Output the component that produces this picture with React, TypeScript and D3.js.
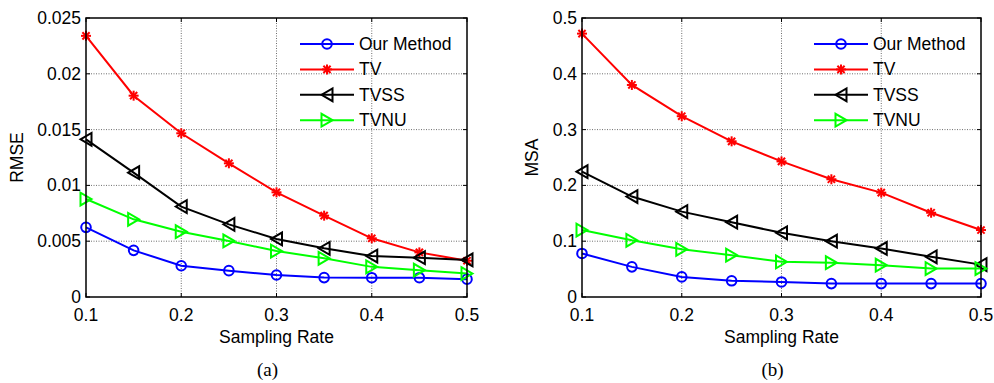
import React from 'react';
import * as d3 from 'd3';

// sampling rates on the x axis
const samplingRates = [0.1, 0.15, 0.2, 0.25, 0.3, 0.35, 0.4, 0.45, 0.5];
const xTickValues = [0.1, 0.2, 0.3, 0.4, 0.5];
const xTickLabels = ['0.1', '0.2', '0.3', '0.4', '0.5'];

// (a) RMSE
const rmseOurMethod = [0.00624, 0.00418, 0.0028, 0.00236, 0.00197, 0.00174, 0.00173, 0.00173, 0.0016];
const rmseTV = [0.0234, 0.01804, 0.01467, 0.01198, 0.00938, 0.00729, 0.00526, 0.004, 0.00325];
const rmseTVSS = [0.01413, 0.01114, 0.0081, 0.00651, 0.0052, 0.00436, 0.00367, 0.00352, 0.00332];
const rmseTVNU = [0.00878, 0.00696, 0.00585, 0.00502, 0.00412, 0.00347, 0.0027, 0.0024, 0.0021];
const rmseTicks = [0, 0.005, 0.01, 0.015, 0.02, 0.025];
const rmseTickLabels = ['0', '0.005', '0.01', '0.015', '0.02', '0.025'];

// (b) MSA
const msaOurMethod = [0.078, 0.054, 0.036, 0.029, 0.027, 0.024, 0.024, 0.024, 0.024];
const msaTV = [0.472, 0.38, 0.324, 0.279, 0.243, 0.211, 0.187, 0.151, 0.12];
const msaTVSS = [0.2245, 0.18, 0.153, 0.134, 0.115, 0.1, 0.087, 0.072, 0.058];
const msaTVNU = [0.12, 0.1016, 0.0855, 0.075, 0.063, 0.0615, 0.057, 0.051, 0.051];
const msaTicks = [0, 0.1, 0.2, 0.3, 0.4, 0.5];
const msaTickLabels = ['0', '0.1', '0.2', '0.3', '0.4', '0.5'];

const methodNames = ['Our Method', 'TV', 'TVSS', 'TVNU'];
const methodColors = ['#0000ff', '#ff0000', '#000000', '#00ff00'];
const methodMarkers = ['circle', 'star', 'triLeft', 'triRight'];

const FONT = '"Liberation Sans", Arial, sans-serif';

type MarkerProps = { kind: string; x: number; y: number; color: string };

const Marker = ({ kind, x, y, color }: MarkerProps) => {
  if (kind === 'circle') {
    return <circle cx={x} cy={y} r={4.8} fill="none" stroke={color} strokeWidth={2} />;
  }
  if (kind === 'star') {
    const s = 5, d = 3.6;
    return (
      <g stroke={color} strokeWidth={2}>
        <line x1={x - s} y1={y} x2={x + s} y2={y} />
        <line x1={x} y1={y - s} x2={x} y2={y + s} />
        <line x1={x - d} y1={y - d} x2={x + d} y2={y + d} />
        <line x1={x - d} y1={y + d} x2={x + d} y2={y - d} />
      </g>
    );
  }
  const w = 5.5, h = 6.4;
  const pts = kind === 'triLeft'
    ? [[x - w, y], [x + w, y - h], [x + w, y + h]]
    : [[x + w, y], [x - w, y - h], [x - w, y + h]];
  return <polygon points={pts.map(p => p.join(',')).join(' ')} fill="none" stroke={color} strokeWidth={2} />;
};

type PanelProps = {
  left: number; right: number; top: number; bottom: number;
  yMax: number; yTicks: number[]; yTickLabels: string[];
  yLabel: string; yLabelX: number; series: number[][];
  legendX: number; caption: string;
};

const Panel = (p: PanelProps) => {
  const x = d3.scaleLinear().domain([0.1, 0.5]).range([p.left, p.right]);
  const y = d3.scaleLinear().domain([0, p.yMax]).range([p.bottom, p.top]);
  const line = d3.line<number>().x((_, i) => x(samplingRates[i])).y(d => y(d));
  const tick = 4;
  const cx = (p.left + p.right) / 2;

  return (
    <g fontFamily={FONT} fontSize={17.5}>
      {/* grid */}
      <g stroke="#6e6e6e" strokeWidth={1} strokeDasharray="1,1.5">
        {xTickValues.slice(1, -1).map(v => (
          <line key={'gx' + v} x1={x(v)} x2={x(v)} y1={p.top} y2={p.bottom} />
        ))}
        {p.yTicks.slice(1, -1).map(v => (
          <line key={'gy' + v} x1={p.left} x2={p.right} y1={y(v)} y2={y(v)} />
        ))}
      </g>
      {/* inward ticks */}
      <g stroke="#000" strokeWidth={1}>
        {xTickValues.map(v => (
          <g key={'tx' + v}>
            <line x1={x(v)} x2={x(v)} y1={p.bottom} y2={p.bottom - tick} />
            <line x1={x(v)} x2={x(v)} y1={p.top} y2={p.top + tick} />
          </g>
        ))}
        {p.yTicks.map(v => (
          <g key={'ty' + v}>
            <line x1={p.left} x2={p.left + tick} y1={y(v)} y2={y(v)} />
            <line x1={p.right} x2={p.right - tick} y1={y(v)} y2={y(v)} />
          </g>
        ))}
      </g>
      {/* series */}
      {p.series.map((vals, si) => (
        <g key={'s' + si}>
          <path d={line(vals) || ''} fill="none" stroke={methodColors[si]} strokeWidth={2} />
          {vals.map((v, i) => (
            <Marker key={i} kind={methodMarkers[si]} x={x(samplingRates[i])} y={y(v)} color={methodColors[si]} />
          ))}
        </g>
      ))}
      {/* axes box */}
      <rect x={p.left} y={p.top} width={p.right - p.left} height={p.bottom - p.top} fill="none" stroke="#000" strokeWidth={1.5} />
      {/* tick labels */}
      {xTickValues.map((v, i) => (
        <text key={'lx' + v} x={x(v)} y={p.bottom + 24} textAnchor="middle">{xTickLabels[i]}</text>
      ))}
      {p.yTicks.map((v, i) => (
        <text key={'ly' + v} x={p.left - 5} y={y(v) + 6} textAnchor="end">{p.yTickLabels[i]}</text>
      ))}
      <text x={cx} y={343} textAnchor="middle">Sampling Rate</text>
      <text transform={`translate(${p.yLabelX},${(p.top + p.bottom) / 2}) rotate(-90)`} textAnchor="middle">{p.yLabel}</text>
      {/* legend */}
      {methodNames.map((name, i) => {
        const ly = 44 + i * 25.4;
        return (
          <g key={'lg' + i}>
            <line x1={p.legendX} x2={p.legendX + 54} y1={ly} y2={ly} stroke={methodColors[i]} strokeWidth={2} />
            <Marker kind={methodMarkers[i]} x={p.legendX + 27} y={ly} color={methodColors[i]} />
            <text x={p.legendX + 59} y={ly + 6}>{name}</text>
          </g>
        );
      })}
      <text x={cx - 9} y={376} textAnchor="middle" fontFamily='"Liberation Serif", "Times New Roman", serif' fontSize={19}>{p.caption}</text>
    </g>
  );
};

export default function App() {
  return (
    <svg width={994} height={383} style={{ position: 'absolute', left: 0, top: 0, background: '#fff' }}>
      <Panel
        left={86} right={467} top={18} bottom={297}
        yMax={0.025} yTicks={rmseTicks} yTickLabels={rmseTickLabels}
        yLabel="RMSE" yLabelX={23} series={[rmseOurMethod, rmseTV, rmseTVSS, rmseTVNU]}
        legendX={300} caption="(a)"
      />
      <Panel
        left={582} right={981} top={18} bottom={297}
        yMax={0.5} yTicks={msaTicks} yTickLabels={msaTickLabels}
        yLabel="MSA" yLabelX={538} series={[msaOurMethod, msaTV, msaTVSS, msaTVNU]}
        legendX={814} caption="(b)"
      />
    </svg>
  );
}
